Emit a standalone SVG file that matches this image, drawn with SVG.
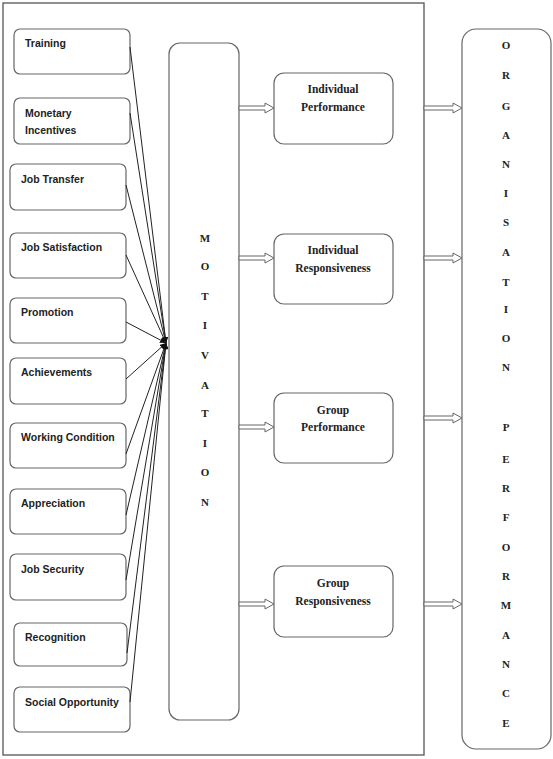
<svg xmlns="http://www.w3.org/2000/svg" width="553" height="759" viewBox="0 0 553 759">
<style>
.box{fill:#fff;stroke:#666;stroke-width:1.2}
.lbl{font-family:"Liberation Sans",Arial,sans-serif;font-weight:bold;font-size:10.5px;fill:#222}
.mid{font-family:"Liberation Serif","Times New Roman",serif;font-weight:bold;font-size:11.5px;fill:#222;text-anchor:middle}
.vert{font-family:"Liberation Serif","Times New Roman",serif;font-weight:bold;font-size:11px;fill:#222;text-anchor:middle}
.ln{stroke:#222;stroke-width:1;fill:none}
.dbl{fill:#fff;stroke:#666;stroke-width:1}
</style>
<defs>
<marker id="ah" viewBox="0 0 10 10" refX="10" refY="5" markerWidth="6" markerHeight="6" orient="auto" markerUnits="userSpaceOnUse">
<path d="M0,0 L10,5 L0,10 z" fill="#111"/>
</marker>
</defs>
<rect x="3" y="3" width="421" height="752" fill="#fff" stroke="#555" stroke-width="1.3"/>

<g id="n-training"><rect class="box" x="14" y="29" width="116" height="45" rx="6"/><text class="lbl" x="25" y="47">Training</text></g>
<g id="n-monetary"><rect class="box" x="14" y="98" width="116" height="46" rx="6"/><text class="lbl" x="25" y="117">Monetary</text><text class="lbl" x="25" y="134">Incentives</text></g>
<g id="n-jobtransfer"><rect class="box" x="10" y="164" width="116" height="46" rx="6"/><text class="lbl" x="21" y="183">Job Transfer</text></g>
<g id="n-jobsatisfaction"><rect class="box" x="10" y="233" width="116" height="45" rx="6"/><text class="lbl" x="21" y="251">Job Satisfaction</text></g>
<g id="n-promotion"><rect class="box" x="10" y="298" width="116" height="45" rx="6"/><text class="lbl" x="21" y="316">Promotion</text></g>
<g id="n-achievements"><rect class="box" x="10" y="358" width="116" height="46" rx="6"/><text class="lbl" x="21" y="376">Achievements</text></g>
<g id="n-working"><rect class="box" x="10" y="423" width="116" height="45" rx="6"/><text class="lbl" x="21" y="441">Working Condition</text></g>
<g id="n-appreciation"><rect class="box" x="10" y="489" width="116" height="45" rx="6"/><text class="lbl" x="21" y="507">Appreciation</text></g>
<g id="n-jobsecurity"><rect class="box" x="10" y="554" width="116" height="46" rx="6"/><text class="lbl" x="21" y="573">Job Security</text></g>
<g id="n-recognition"><rect class="box" x="14" y="623" width="113" height="43" rx="6"/><text class="lbl" x="25" y="641">Recognition</text></g>
<g id="n-social"><rect class="box" x="14" y="687" width="116" height="45" rx="6"/><text class="lbl" x="25" y="706">Social Opportunity</text></g>

<g id="n-motivation"><rect class="box" x="169" y="43" width="70" height="677" rx="11"/>
<text class="vert" x="205" y="242">M</text><text class="vert" x="205" y="270">O</text><text class="vert" x="205" y="300">T</text><text class="vert" x="205" y="329">I</text><text class="vert" x="205" y="359">V</text><text class="vert" x="205" y="389">A</text><text class="vert" x="205" y="417">T</text><text class="vert" x="205" y="447">I</text><text class="vert" x="205" y="476">O</text><text class="vert" x="205" y="506">N</text>
</g>

<g id="n-indperf"><rect class="box" x="274" y="73" width="119" height="71" rx="10"/><text class="mid" x="333" y="93">Individual</text><text class="mid" x="333" y="111">Performance</text></g>
<g id="n-indresp"><rect class="box" x="274" y="234" width="119" height="70" rx="10"/><text class="mid" x="333" y="254">Individual</text><text class="mid" x="333" y="272">Responsiveness</text></g>
<g id="n-grpperf"><rect class="box" x="274" y="393" width="119" height="70" rx="10"/><text class="mid" x="333" y="414">Group</text><text class="mid" x="333" y="431">Performance</text></g>
<g id="n-grpresp"><rect class="box" x="274" y="566" width="119" height="71" rx="10"/><text class="mid" x="333" y="587">Group</text><text class="mid" x="333" y="605">Responsiveness</text></g>

<g id="n-orgperf"><rect class="box" x="462" y="29" width="89" height="720" rx="14"/>
<text class="vert" x="506" y="49">O</text><text class="vert" x="506" y="79">R</text><text class="vert" x="506" y="110">G</text><text class="vert" x="506" y="139">A</text><text class="vert" x="506" y="168">N</text><text class="vert" x="506" y="197">I</text><text class="vert" x="506" y="226">S</text><text class="vert" x="506" y="256">A</text><text class="vert" x="506" y="286">T</text><text class="vert" x="506" y="313">I</text><text class="vert" x="506" y="342">O</text><text class="vert" x="506" y="371">N</text>
<text class="vert" x="506" y="431">P</text><text class="vert" x="506" y="463">E</text><text class="vert" x="506" y="492">R</text><text class="vert" x="506" y="521">F</text><text class="vert" x="506" y="551">O</text><text class="vert" x="506" y="580">R</text><text class="vert" x="506" y="609">M</text><text class="vert" x="506" y="639">A</text><text class="vert" x="506" y="668">N</text><text class="vert" x="506" y="697">C</text><text class="vert" x="506" y="727">E</text>
</g>

<g id="connectors">
<line class="ln" x1="130" y1="47" x2="166" y2="343" marker-end="url(#ah)"/>
<line class="ln" x1="130" y1="113" x2="166" y2="343" marker-end="url(#ah)"/>
<line class="ln" x1="126" y1="185" x2="166" y2="343" marker-end="url(#ah)"/>
<line class="ln" x1="126" y1="255" x2="166" y2="343" marker-end="url(#ah)"/>
<line class="ln" x1="126" y1="322" x2="166" y2="343" marker-end="url(#ah)"/>
<line class="ln" x1="126" y1="379" x2="166" y2="343" marker-end="url(#ah)"/>
<line class="ln" x1="126" y1="454" x2="166" y2="343" marker-end="url(#ah)"/>
<line class="ln" x1="126" y1="515" x2="166" y2="343" marker-end="url(#ah)"/>
<line class="ln" x1="126" y1="580" x2="166" y2="343" marker-end="url(#ah)"/>
<line class="ln" x1="127" y1="653" x2="166" y2="343" marker-end="url(#ah)"/>
<line class="ln" x1="130" y1="702" x2="166" y2="343" marker-end="url(#ah)"/>

<path class="dbl" d="M239,106 L265,106 L265,103 L274,108 L265,113 L265,110 L239,110 Z"/>
<path class="dbl" d="M239,256 L265,256 L265,253 L274,258 L265,263 L265,260 L239,260 Z"/>
<path class="dbl" d="M239,425 L265,425 L265,422 L274,427 L265,432 L265,429 L239,429 Z"/>
<path class="dbl" d="M239,602 L265,602 L265,599 L274,604 L265,609 L265,606 L239,606 Z"/>

<path class="dbl" d="M424,106 L453,106 L453,103 L462,108 L453,113 L453,110 L424,110 Z"/>
<path class="dbl" d="M424,256 L453,256 L453,253 L462,258 L453,263 L453,260 L424,260 Z"/>
<path class="dbl" d="M424,416 L453,416 L453,413 L462,418 L453,423 L453,420 L424,420 Z"/>
<path class="dbl" d="M424,602 L453,602 L453,599 L462,604 L453,609 L453,606 L424,606 Z"/>
</g>
</svg>
